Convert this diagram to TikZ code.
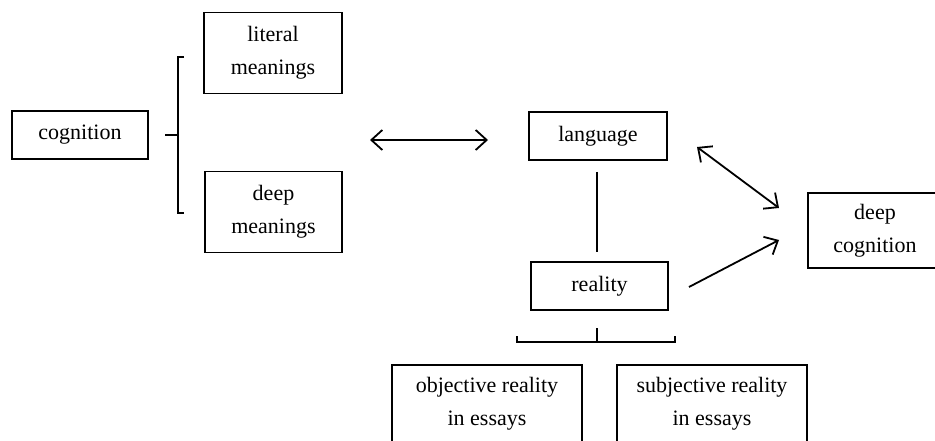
\documentclass[tikz,border=0pt]{standalone}
\usepackage{fontspec}
\setmainfont{Liberation Serif}
\usetikzlibrary{arrows.meta}
\begin{document}
\begin{tikzpicture}[x=1pt,y=-1pt,
  box/.style={draw=black,line width=1.1pt,fill=white,inner sep=0pt,align=center,
    font=\fontsize{22}{33}\selectfont},
  link/.style={line width=1.8pt,draw=black},
  tip/.style={},
  arr/.style={link,{Straight Barb[length=11pt,width=20pt,line width=1.8pt]}-{Straight Barb[length=11pt,width=20pt,line width=1.8pt]}},
  arrone/.style={link,-{Straight Barb[length=11pt,width=20pt,line width=1.8pt]}},
]
\useasboundingbox (0,0) rectangle (935,441);
\clip (0,0) rectangle (935,441);
\fill[white] (0,0) rectangle (935,441);

% boxes
\node[box,minimum width=136pt,minimum height=48pt] (cog) at (80,135) {cognition};
\node[box,minimum width=138pt,minimum height=81pt] (lit) at (273,53) {literal\\meanings};
\node[box,minimum width=137pt,minimum height=81pt] (dm) at (273.5,212) {deep\\meanings};
\node[box,minimum width=138pt,minimum height=48pt] (lang) at (598,136) {language};
\node[box,minimum width=137pt,minimum height=48pt] (real) at (599.5,286) {reality};
\node[box,minimum width=134pt,minimum height=75pt] (dc) at (875,230.5) {deep\\cognition};
\node[box,minimum width=190pt,minimum height=78pt] (obj) at (487,404) {objective reality\\in essays};
\node[box,minimum width=190pt,minimum height=78pt] (subj) at (712,404) {subjective reality\\in essays};

% coordinates
\coordinate (bstub) at (165,135);
\coordinate (bmid) at (178,135);
\coordinate (btop) at (178,57);
\coordinate (bbot) at (178,213);
\coordinate (la) at (370,140);
\coordinate (lb) at (488,140);
\coordinate (ldA) at (697,147);
\coordinate (ldB) at (779,208);
\coordinate (rdA) at (689,287);
\coordinate (rdB) at (779,240);
\coordinate (lrA) at (597,172);
\coordinate (lrB) at (597,252);
\coordinate (rs) at (597,328);
\coordinate (rm) at (597,342);
\coordinate (rl) at (517,342);
\coordinate (rr) at (675,342);

% left bracket
\draw[link,line width=1.5pt] (bstub) -- (bmid);
\draw[link,line width=1.5pt] ([xshift=6pt]btop) -- (btop) -- (bbot) -- ([xshift=6pt]bbot);

% arrows
\draw[arr] (la) -- (lb);
\draw[arr] (ldA) -- (ldB);
\draw[arrone] (rdA) -- (rdB);
\draw[link,line width=1.3pt] (lrA) -- (lrB);

% bottom bracket
\draw[link,line width=1.5pt] (rs) -- (rm);
\draw[link,line width=1.5pt] ([yshift=6pt]rl) -- (rl) -- (rr) -- ([yshift=6pt]rr);
\end{tikzpicture}
\end{document}
